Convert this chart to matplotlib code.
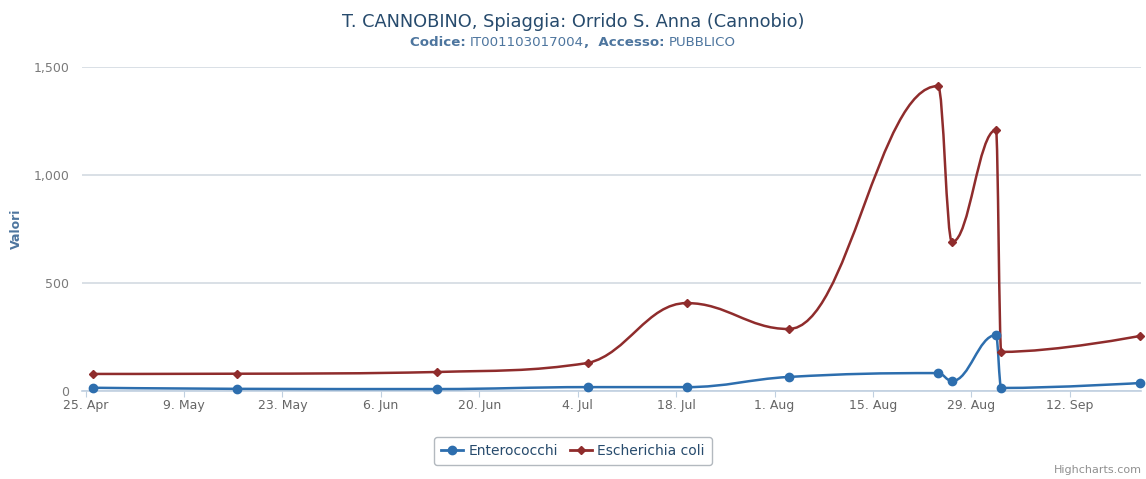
import matplotlib
matplotlib.use("Agg")
import matplotlib.pyplot as plt
import matplotlib.dates as mdates
from matplotlib.path import Path
from matplotlib.patches import PathPatch
from matplotlib.lines import Line2D
from matplotlib.ticker import FuncFormatter
import numpy as np
import datetime as dt

# ---- data ----
dates = ["2014-04-26 00:00", "2014-05-16 12:00", "2014-06-14 00:00", "2014-07-05 12:00",
         "2014-07-19 12:00", "2014-08-03 00:00", "2014-08-24 06:00", "2014-08-26 06:00",
         "2014-09-01 12:00", "2014-09-02 06:00", "2014-09-22 00:00"]
enterococchi = [15, 10, 9, 18, 18, 65, 83, 46, 259, 14, 37]
escherichia_coli = [79, 80, 88, 130, 407, 287, 1412, 690, 1208, 181, 255]
series_names = ["Enterococchi", "Escherichia coli"]
title_text = "T. CANNOBINO, Spiaggia: Orrido S. Anna (Cannobio)"
subtitle_parts = [("Codice: ", "bold"), ("IT001103017004", "normal"),
                  (",  Accesso: ", "bold"), ("PUBBLICO", "normal")]
y_ticks = [0, 500, 1000, 1500]
x_tick_start = "2014-04-25"
x_tick_step_days = 14
x_tick_count = 11

BLUE = "#2d6eae"
RED = "#8f2c2c"

W, H = 1146, 479
fig = plt.figure(figsize=(W / 100, H / 100), dpi=100)
fig.patch.set_facecolor("white")

left_px, right_px, top_px, bottom_px = 82, 1141, 67, 391
ax = fig.add_axes([left_px / W, 1 - bottom_px / H,
                   (right_px - left_px) / W, (bottom_px - top_px) / H])

xnum = mdates.date2num([dt.datetime.strptime(d, "%Y-%m-%d %H:%M") for d in dates])
t0 = mdates.date2num(dt.datetime.strptime(x_tick_start, "%Y-%m-%d"))
px_per_day = 7.03
ax.set_xlim(t0 - (85.6 - left_px) / px_per_day, t0 + (right_px - 85.6) / px_per_day)
ax.set_ylim(0, 1500)


def spline_path(xs, ys):
    smoothing = 1.5
    denom = smoothing + 1
    n = len(xs)
    rc = [None] * n
    lc = [None] * n
    for i in range(n):
        if 0 < i < n - 1:
            px, py = xs[i], ys[i]
            lx, ly = xs[i - 1], ys[i - 1]
            nx, ny = xs[i + 1], ys[i + 1]
            lcx = (smoothing * px + lx) / denom
            lcy = (smoothing * py + ly) / denom
            rcx = (smoothing * px + nx) / denom
            rcy = (smoothing * py + ny) / denom
            corr = ((rcy - lcy) * (rcx - px)) / (rcx - lcx) + py - rcy
            lcy += corr
            rcy += corr
            if lcy > ly and lcy > py:
                lcy = max(ly, py); rcy = 2 * py - lcy
            elif lcy < ly and lcy < py:
                lcy = min(ly, py); rcy = 2 * py - lcy
            if rcy > ny and rcy > py:
                rcy = max(ny, py); lcy = 2 * py - rcy
            elif rcy < ny and rcy < py:
                rcy = min(ny, py); lcy = 2 * py - rcy
            lc[i] = (lcx, lcy)
            rc[i] = (rcx, rcy)
    verts = [(xs[0], ys[0])]
    codes = [Path.MOVETO]
    for i in range(1, n):
        c1 = rc[i - 1] if rc[i - 1] is not None else (xs[i - 1], ys[i - 1])
        c2 = lc[i] if lc[i] is not None else (xs[i], ys[i])
        verts += [c1, c2, (xs[i], ys[i])]
        codes += [Path.CURVE4] * 3
    return Path(verts, codes)


for vals, col, mk, ms in [(enterococchi, BLUE, "o", 6), (escherichia_coli, RED, "D", 4.2)]:
    p = spline_path(list(xnum), list(vals))
    ax.add_patch(PathPatch(p, facecolor="none", edgecolor=col, lw=1.8, zorder=3))
    ax.plot(xnum, vals, linestyle="none", marker=mk, color=col, markersize=ms,
            zorder=4, clip_on=False)

# grid / axes
ax.set_yticks(y_ticks)
ax.yaxis.set_major_formatter(FuncFormatter(lambda v, p: f"{int(v):,}"))
ax.grid(axis="y", color="#d3dae1", lw=1.2)
ax.set_axisbelow(True)
for s in ["top", "right", "left"]:
    ax.spines[s].set_visible(False)
ax.spines["bottom"].set_color("#c0d0e0")
ax.spines["bottom"].set_linewidth(1.2)
ax.tick_params(axis="y", length=0, pad=9, labelsize=9, labelcolor="#7a7a7a")
xt = [t0 + i * x_tick_step_days for i in range(x_tick_count)]
ax.set_xticks(xt)
ax.set_xticklabels([mdates.num2date(t).strftime("%-d. %b") for t in xt])
ax.tick_params(axis="x", length=4, color="#c0d0e0", pad=2, labelsize=9, labelcolor="#666666")
ax.set_ylabel("Valori", fontsize=9, color="#4d759e", fontweight="bold", labelpad=8)

# title
fig.text(0.5, 1 - 22 / H, title_text, ha="center", va="center", fontsize=12.8, color="#274b6d")

# subtitle (mixed weights)
sub_texts = [fig.text(0, 1 - 43 / H, s, ha="left", va="center", fontsize=9.6,
                      color="#4d759e", fontweight=w) for s, w in subtitle_parts]
fig.canvas.draw()
rend = fig.canvas.get_renderer()
widths = [t.get_window_extent(rend).width for t in sub_texts]
x = (W - sum(widths)) / 2
for t, wd in zip(sub_texts, widths):
    t.set_x(x / W)
    x += wd

# legend
handles = [Line2D([0], [0], color=BLUE, lw=2, marker="o", markersize=6),
           Line2D([0], [0], color=RED, lw=2, marker="D", markersize=4.5)]
leg = fig.legend(handles, series_names, loc="center", bbox_to_anchor=(0.5, 1 - 451 / H),
                 ncol=2, frameon=True, fancybox=True, fontsize=10, handlelength=1.6,
                 handletextpad=0.4, columnspacing=0.8, borderpad=0.5, labelcolor="#274b6d")
leg.get_frame().set_edgecolor("#a0a8b0")
leg.get_frame().set_linewidth(1)

fig.text(1 - 4 / W, 1 - 470 / H, "Highcharts.com", ha="right", va="center",
         fontsize=8, color="#909090")

fig.savefig("out.png", dpi=100)
